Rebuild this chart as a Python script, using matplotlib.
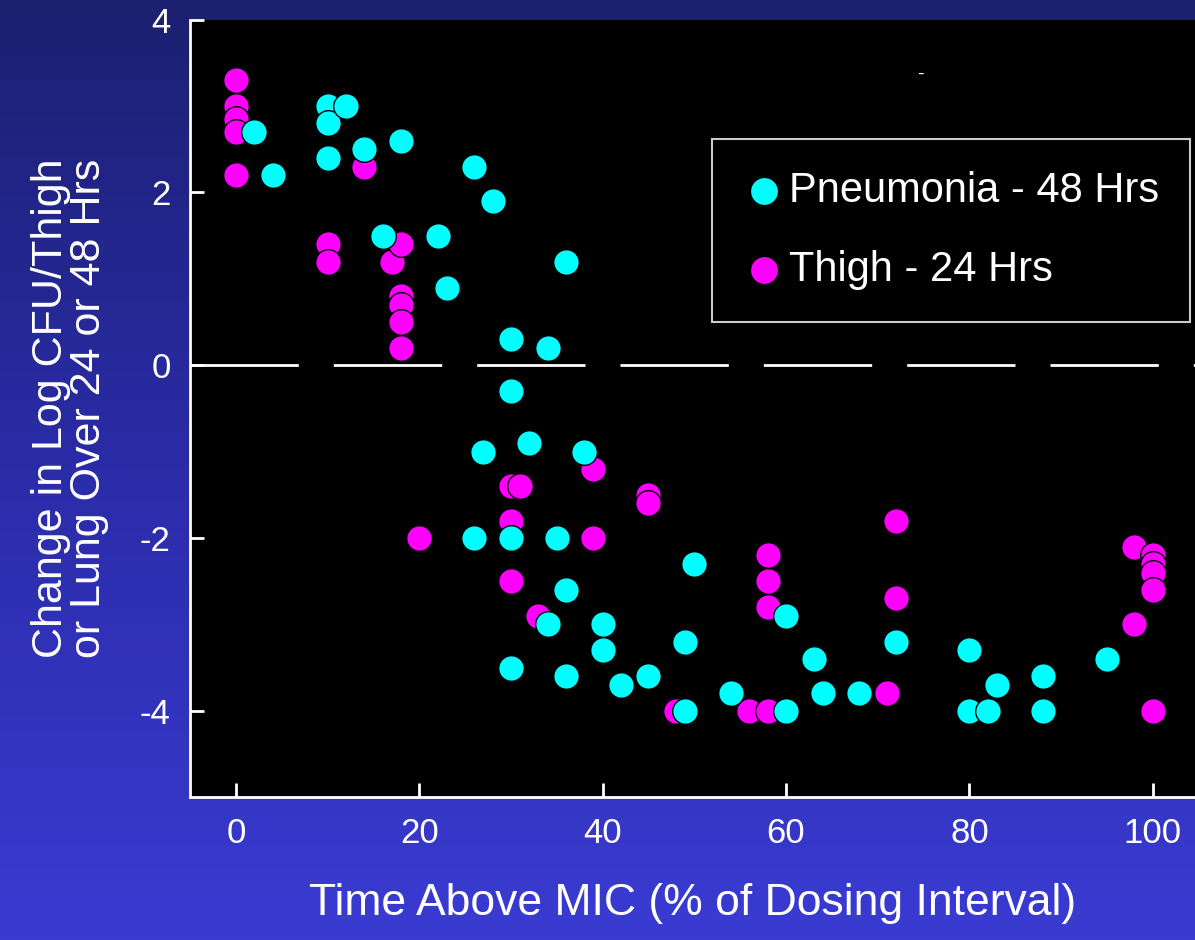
import numpy as np
import matplotlib
matplotlib.use("Agg")
import matplotlib.pyplot as plt
from matplotlib.colors import LinearSegmentedColormap

plt.rcParams["font.family"] = ["Liberation Sans", "DejaVu Sans"]
plt.rcParams["axes.unicode_minus"] = False

# Pneumonia - 48 Hrs (cyan)
pn_x = [2, 4, 10, 10, 10, 12, 14, 16, 18, 22, 23, 26, 28, 30, 30, 34, 36, 27, 32, 26, 30, 35, 38,
        36, 34, 30, 36, 40, 40, 42, 45, 49, 49, 50, 54, 60, 60, 63, 64, 68, 72, 80, 80, 82, 83, 88, 88, 95]
pn_y = [2.7, 2.2, 3.0, 2.8, 2.4, 3.0, 2.5, 1.5, 2.6, 1.5, 0.9, 2.3, 1.9, 0.3, -0.3, 0.2, 1.2, -1.0, -0.9, -2.0, -2.0, -2.0, -1.0,
        -2.6, -3.0, -3.5, -3.6, -3.0, -3.3, -3.7, -3.6, -3.2, -4.0, -2.3, -3.8, -2.9, -4.0, -3.4, -3.8, -3.8, -3.2, -3.3, -4.0, -4.0, -3.7, -3.6, -4.0, -3.4]

# Thigh - 24 Hrs (magenta)
th_x = [0, 0, 0, 0, 0, 10, 10, 14, 17, 18, 18, 18, 18, 18, 20, 30, 31, 30, 30, 33, 39, 39, 45, 45,
        48, 56, 58, 58, 58, 58, 71, 72, 72, 98, 98, 100, 100, 100, 100, 100]
th_y = [3.3, 3.0, 2.85, 2.7, 2.2, 1.4, 1.2, 2.3, 1.2, 1.4, 0.8, 0.7, 0.5, 0.2, -2.0, -1.4, -1.4, -1.8, -2.5, -2.9, -1.2, -2.0, -1.5, -1.6,
        -4.0, -4.0, -2.2, -2.5, -2.8, -4.0, -3.8, -1.8, -2.7, -2.1, -3.0, -2.2, -2.3, -2.4, -2.6, -4.0]

fig = plt.figure(figsize=(11.95, 9.4), dpi=100)

# gradient background
bg = fig.add_axes([0, 0, 1, 1], zorder=-10)
cmap = LinearSegmentedColormap.from_list("bg", ["#1c2070", "#2a2ca8", "#3a3bd2"])
bg.imshow(np.linspace(0, 1, 256).reshape(-1, 1), aspect="auto", cmap=cmap, extent=[0, 1, 0, 1])
bg.axis("off")

ax = fig.add_axes([0.159, 0.152, 0.841, 0.827])
ax.set_facecolor("black")
ax.set_xlim(-5, 104.6)
ax.set_ylim(-5, 4)

ax.plot([-5, 104.6], [0, 0], color="white", lw=2, dashes=(39, 12.6), zorder=1)

ax.scatter(th_x, th_y, s=340, c="#ff00ff", edgecolors="black", linewidths=1, zorder=3, label="Thigh - 24 Hrs")
ax.scatter(pn_x, pn_y, s=340, c="#00ffff", edgecolors="black", linewidths=1, zorder=3, label="Pneumonia - 48 Hrs")

ax.text(74.6, 3.37, "-", color="white", fontsize=14, ha="center", va="center")

for s in ["top", "right"]:
    ax.spines[s].set_visible(False)
for s in ["left", "bottom"]:
    ax.spines[s].set_color("white")
    ax.spines[s].set_linewidth(2)

ax.set_xticks([0, 20, 40, 60, 80, 100])
ax.set_yticks([4, 2, 0, -2, -4])
ax.tick_params(colors="white", labelsize=25, direction="in", length=10, width=2, pad=14)

ax.set_xlabel("Time Above MIC (% of Dosing Interval)", color="white", fontsize=32, labelpad=24)
ax.set_ylabel("Change in Log CFU/Thigh\nor Lung Over 24 or 48 Hrs", color="white", fontsize=31,
              labelpad=22, linespacing=0.95)

handles, labels = ax.get_legend_handles_labels()
leg = ax.legend(handles[::-1], labels[::-1], loc="upper right", bbox_to_anchor=(0.995, 0.846),
                fontsize=30, frameon=True, facecolor="black", edgecolor="white",
                labelcolor="white", handletextpad=0.1, handlelength=1.0, borderpad=0.75,
                labelspacing=0.95, borderaxespad=0, markerscale=1.1, fancybox=False)
leg.get_frame().set_linewidth(1.5)

fig.savefig("out.png", dpi=100)
